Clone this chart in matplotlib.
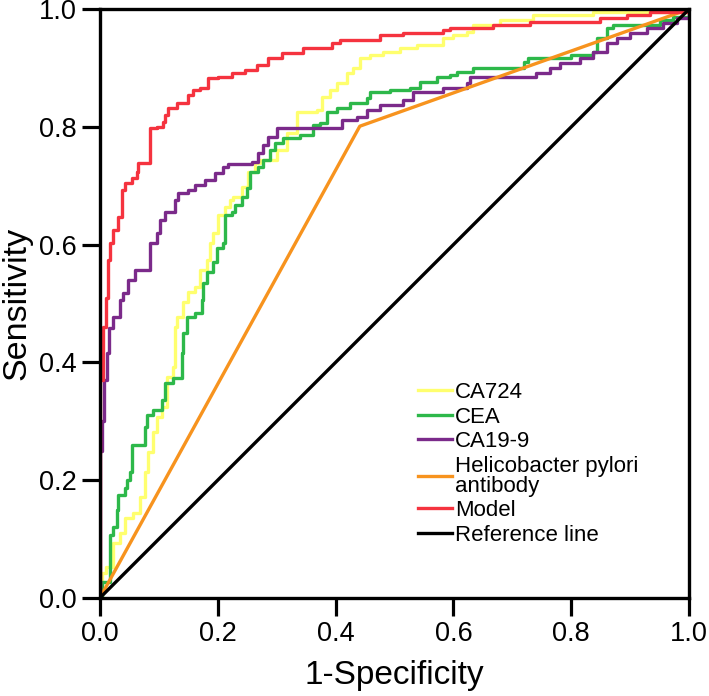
import numpy as np
import matplotlib
matplotlib.use("Agg")
import matplotlib.pyplot as plt

plt.rcParams["font.family"] = ["Liberation Sans", "DejaVu Sans"]

# ROC points (1-specificity, sensitivity)
ca724_x = [0, 0.003, 0.011, 0.022, 0.034, 0.042, 0.056, 0.068, 0.076, 0.082, 0.090, 0.097,
           0.105, 0.114, 0.124, 0.127, 0.131, 0.141, 0.149, 0.161, 0.170, 0.181, 0.187,
           0.192, 0.200, 0.212, 0.221, 0.226, 0.241, 0.251, 0.263, 0.272, 0.300, 0.317,
           0.334, 0.368, 0.377, 0.390, 0.402, 0.419, 0.430, 0.441, 0.458, 0.480, 0.509,
           0.538, 0.582, 0.599, 0.623, 0.633, 0.679, 0.735, 0.837, 1.0]
ca724_y = [0, 0.042, 0.053, 0.093, 0.110, 0.136, 0.144, 0.172, 0.214, 0.248, 0.282, 0.307,
           0.324, 0.375, 0.392, 0.460, 0.477, 0.503, 0.520, 0.528, 0.557, 0.574, 0.603,
           0.620, 0.650, 0.664, 0.676, 0.681, 0.698, 0.723, 0.738, 0.744, 0.761, 0.790,
           0.825, 0.829, 0.851, 0.862, 0.874, 0.891, 0.900, 0.917, 0.922, 0.927, 0.934,
           0.939, 0.951, 0.956, 0.961, 0.973, 0.981, 0.990, 0.995, 1.0]

cea_x = [0, 0.003, 0.017, 0.022, 0.029, 0.031, 0.042, 0.046, 0.051, 0.054, 0.076, 0.080,
         0.090, 0.105, 0.110, 0.124, 0.139, 0.141, 0.148, 0.161, 0.173, 0.175, 0.181,
         0.192, 0.198, 0.209, 0.212, 0.224, 0.229, 0.241, 0.249, 0.255, 0.268, 0.277,
         0.289, 0.297, 0.311, 0.340, 0.362, 0.374, 0.385, 0.402, 0.424, 0.453, 0.458,
         0.492, 0.526, 0.543, 0.572, 0.594, 0.606, 0.633, 0.720, 0.727, 0.800, 0.837,
         0.844, 0.861, 0.871, 0.951, 0.973, 1.0]
cea_y = [0, 0.027, 0.107, 0.120, 0.149, 0.175, 0.187, 0.200, 0.214, 0.260, 0.290, 0.311,
         0.319, 0.336, 0.365, 0.373, 0.416, 0.450, 0.477, 0.483, 0.506, 0.535, 0.554,
         0.571, 0.594, 0.603, 0.650, 0.656, 0.667, 0.681, 0.696, 0.723, 0.732, 0.744,
         0.761, 0.772, 0.781, 0.786, 0.803, 0.806, 0.825, 0.832, 0.840, 0.849, 0.859,
         0.862, 0.866, 0.876, 0.885, 0.888, 0.893, 0.900, 0.910, 0.917, 0.922, 0.927,
         0.951, 0.968, 0.973, 0.981, 0.986, 1.0]

ca199_x = [0, 0, 0.003, 0.007, 0.012, 0.015, 0.022, 0.034, 0.039, 0.048, 0.059, 0.085,
           0.097, 0.102, 0.110, 0.127, 0.132, 0.149, 0.161, 0.178, 0.195, 0.209, 0.217,
           0.258, 0.268, 0.277, 0.285, 0.300, 0.410, 0.436, 0.453, 0.475, 0.514, 0.531,
           0.582, 0.623, 0.628, 0.740, 0.764, 0.781, 0.815, 0.837, 0.861, 0.878, 0.900,
           0.929, 0.956, 0.980, 1.0]
ca199_y = [0, 0.250, 0.300, 0.370, 0.416, 0.458, 0.477, 0.506, 0.518, 0.540, 0.557, 0.603,
           0.620, 0.642, 0.656, 0.676, 0.688, 0.693, 0.701, 0.710, 0.721, 0.732, 0.737,
           0.740, 0.755, 0.769, 0.783, 0.798, 0.812, 0.817, 0.829, 0.837, 0.846, 0.859,
           0.866, 0.874, 0.885, 0.891, 0.900, 0.908, 0.917, 0.927, 0.942, 0.951, 0.959,
           0.968, 0.976, 0.985, 1.0]

hp_x = [0, 0.441, 1.0]
hp_y = [0, 0.801, 1.0]

model_x = [0, 0, 0.005, 0.010, 0.014, 0.017, 0.022, 0.031, 0.037, 0.042, 0.054, 0.063,
           0.065, 0.085, 0.097, 0.107, 0.110, 0.115, 0.131, 0.149, 0.158, 0.170, 0.183,
           0.200, 0.224, 0.246, 0.266, 0.285, 0.309, 0.345, 0.394, 0.407, 0.475, 0.514,
           0.582, 0.594, 0.667, 0.730, 0.849, 0.895, 0.934, 1.0]
model_y = [0, 0.370, 0.460, 0.510, 0.574, 0.603, 0.625, 0.647, 0.693, 0.705, 0.713, 0.723,
           0.738, 0.798, 0.800, 0.808, 0.820, 0.832, 0.840, 0.854, 0.862, 0.866, 0.883,
           0.885, 0.891, 0.896, 0.905, 0.917, 0.925, 0.934, 0.942, 0.947, 0.956, 0.959,
           0.964, 0.968, 0.973, 0.978, 0.985, 0.990, 0.995, 1.0]

ref_x = [0, 1]
ref_y = [0, 1]

fig = plt.figure(figsize=(7.09, 6.96), dpi=100)
ax = fig.add_axes([0.141, 0.141, 0.831, 0.846])

lw = 2.4
ax.plot(ca724_x, ca724_y, color="#FFFF6E", lw=lw, drawstyle="steps-post", label="CA724")
ax.plot(cea_x, cea_y, color="#2DB84A", lw=lw, drawstyle="steps-post", label="CEA")
ax.plot(ca199_x, ca199_y, color="#7B2A8A", lw=lw, drawstyle="steps-post", label="CA19-9")
ax.plot(hp_x, hp_y, color="#F7931E", lw=lw, label="Helicobacter pylori\nantibody")
ax.plot(model_x, model_y, color="#F5333F", lw=lw, drawstyle="steps-post", label="Model")
ax.plot(ref_x, ref_y, color="black", lw=lw, label="Reference line")

ax.set_xlim(0, 1)
ax.set_ylim(0, 1)
ticks = np.arange(0, 1.01, 0.2)
ax.set_xticks(ticks)
ax.set_yticks(ticks)
ax.set_xticklabels(["%.1f" % t for t in ticks])
ax.set_yticklabels(["%.1f" % t for t in ticks])
ax.tick_params(direction="out", length=13, width=2.3, labelsize=19.5, pad=4)
for s in ax.spines.values():
    s.set_linewidth(2.4)

ax.set_xlabel("1-Specificity", fontsize=24, labelpad=9)
ax.set_ylabel("Sensitivity", fontsize=24.5, labelpad=4)

leg = ax.legend(loc="upper left", bbox_to_anchor=(418 / 709, 1 - 382 / 696),
                bbox_transform=fig.transFigure, frameon=False, fontsize=16,
                handlelength=1.55, handletextpad=0.12, labelspacing=0.16,
                borderpad=0, borderaxespad=0)
for t in leg.get_texts():
    t.set_linespacing(0.93)

fig.savefig("out.png", dpi=100)
